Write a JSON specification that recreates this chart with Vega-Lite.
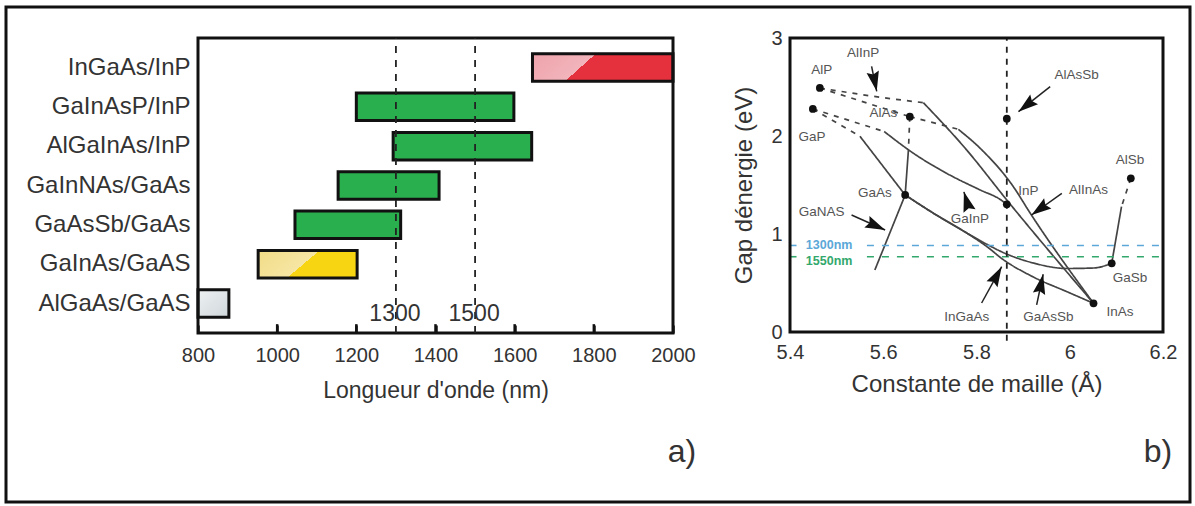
{
  "$schema": "https://vega.github.io/schema/vega-lite/v6.json",
  "width": 1184,
  "height": 495,
  "autosize": "none",
  "padding": {"left": 6, "top": 7, "right": 5, "bottom": 4},
  "background": "white",
  "config": {
    "font": "Liberation Sans",
    "view": {"stroke": "#111", "strokeWidth": 3},
    "axis": {"grid": false}
  },
  "datasets": {
    "bars": [
      {"materiau": "InGaAs/InP", "debut": 1645, "fin": 2000, "gamme": "etendue"},
      {"materiau": "GaInAsP/InP", "debut": 1200, "fin": 1598, "gamme": "telecom"},
      {"materiau": "AlGaInAs/InP", "debut": 1293, "fin": 1643, "gamme": "telecom"},
      {"materiau": "GaInNAs/GaAs", "debut": 1154, "fin": 1409, "gamme": "telecom"},
      {"materiau": "GaAsSb/GaAs", "debut": 1045, "fin": 1312, "gamme": "telecom"},
      {"materiau": "GaInAs/GaAS", "debut": 952, "fin": 1202, "gamme": "proche"},
      {"materiau": "AlGaAs/GaAS", "debut": 800, "fin": 878, "gamme": "visible"}
    ],
    "lambdas": [{"lambda": 1300}, {"lambda": 1500}],
    "graduations": [{"t": 1000}, {"t": 1200}, {"t": 1400}, {"t": 1600}, {"t": 1800}],
    "materials": [
      {"nom": "AlP", "a": 5.464, "eg": 2.49},
      {"nom": "GaP", "a": 5.449, "eg": 2.276},
      {"nom": "AlAs", "a": 5.657, "eg": 2.197},
      {"nom": "AlAsSb", "a": 5.865, "eg": 2.177},
      {"nom": "GaAs", "a": 5.647, "eg": 1.398},
      {"nom": "InP", "a": 5.865, "eg": 1.303},
      {"nom": "AlSb", "a": 6.131, "eg": 1.568},
      {"nom": "GaSb", "a": 6.09, "eg": 0.701},
      {"nom": "InAs", "a": 6.051, "eg": 0.293}
    ],
    "curves": [
      {"seg": "AlInP-ind", "o": 1, "a": 5.464, "eg": 2.49, "gap": "indirect"},
      {"seg": "AlInP-ind", "o": 2, "a": 5.579, "eg": 2.405, "gap": "indirect"},
      {"seg": "AlInP-ind", "o": 3, "a": 5.686, "eg": 2.34, "gap": "indirect"},
      {"seg": "AlInP", "o": 1, "a": 5.686, "eg": 2.34, "gap": "direct"},
      {"seg": "AlInP", "o": 2, "a": 5.779, "eg": 1.857, "gap": "direct"},
      {"seg": "AlInP", "o": 3, "a": 5.865, "eg": 1.347, "gap": "direct"},
      {"seg": "AlInP", "o": 4, "a": 6.051, "eg": 0.293, "gap": "direct"},
      {"seg": "AlAsP", "o": 1, "a": 5.464, "eg": 2.49, "gap": "indirect"},
      {"seg": "AlAsP", "o": 2, "a": 5.657, "eg": 2.197, "gap": "indirect"},
      {"seg": "AlInAs-ind", "o": 1, "a": 5.657, "eg": 2.197, "gap": "indirect"},
      {"seg": "AlInAs-ind", "o": 2, "a": 5.729, "eg": 2.109, "gap": "indirect"},
      {"seg": "AlInAs-ind", "o": 3, "a": 5.761, "eg": 2.068, "gap": "indirect"},
      {"seg": "AlInAs", "o": 1, "a": 5.761, "eg": 2.068, "gap": "direct"},
      {"seg": "AlInAs", "o": 2, "a": 5.808, "eg": 1.874, "gap": "direct"},
      {"seg": "AlInAs", "o": 3, "a": 5.879, "eg": 1.483, "gap": "direct"},
      {"seg": "AlInAs", "o": 4, "a": 5.915, "eg": 1.214, "gap": "direct"},
      {"seg": "AlInAs", "o": 5, "a": 6.051, "eg": 0.293, "gap": "direct"},
      {"seg": "GaInP-ind", "o": 1, "a": 5.449, "eg": 2.276, "gap": "indirect"},
      {"seg": "GaInP-ind", "o": 2, "a": 5.602, "eg": 2.046, "gap": "indirect"},
      {"seg": "GaAsP-ind", "o": 1, "a": 5.449, "eg": 2.276, "gap": "indirect"},
      {"seg": "GaAsP-ind", "o": 2, "a": 5.55, "eg": 1.997, "gap": "indirect"},
      {"seg": "GaAsP", "o": 1, "a": 5.55, "eg": 1.997, "gap": "direct"},
      {"seg": "GaAsP", "o": 2, "a": 5.647, "eg": 1.398, "gap": "direct"},
      {"seg": "GaInP", "o": 1, "a": 5.602, "eg": 2.046, "gap": "direct"},
      {"seg": "GaInP", "o": 2, "a": 5.665, "eg": 1.823, "gap": "direct"},
      {"seg": "GaInP", "o": 3, "a": 5.736, "eg": 1.619, "gap": "direct"},
      {"seg": "GaInP", "o": 4, "a": 5.808, "eg": 1.449, "gap": "direct"},
      {"seg": "GaInP", "o": 5, "a": 5.85, "eg": 1.355, "gap": "direct"},
      {"seg": "GaInP", "o": 6, "a": 5.865, "eg": 1.303, "gap": "direct"},
      {"seg": "AlGaAs-ind", "o": 1, "a": 5.657, "eg": 2.197, "gap": "indirect"},
      {"seg": "AlGaAs-ind", "o": 2, "a": 5.654, "eg": 1.857, "gap": "indirect"},
      {"seg": "AlGaAs", "o": 1, "a": 5.654, "eg": 1.857, "gap": "direct"},
      {"seg": "AlGaAs", "o": 2, "a": 5.647, "eg": 1.398, "gap": "direct"},
      {"seg": "AlGaSb-ind", "o": 1, "a": 6.131, "eg": 1.568, "gap": "indirect"},
      {"seg": "AlGaSb-ind", "o": 2, "a": 6.111, "eg": 1.279, "gap": "indirect"},
      {"seg": "AlGaSb", "o": 1, "a": 6.111, "eg": 1.279, "gap": "direct"},
      {"seg": "AlGaSb", "o": 2, "a": 6.09, "eg": 0.701, "gap": "direct"},
      {"seg": "GaNAs", "o": 1, "a": 5.647, "eg": 1.398, "gap": "direct"},
      {"seg": "GaNAs", "o": 2, "a": 5.582, "eg": 0.633, "gap": "direct"},
      {"seg": "GaAsSb", "o": 1, "a": 5.647, "eg": 1.398, "gap": "direct"},
      {"seg": "GaAsSb", "o": 2, "a": 5.707, "eg": 1.214, "gap": "direct"},
      {"seg": "GaAsSb", "o": 3, "a": 5.779, "eg": 1.01, "gap": "direct"},
      {"seg": "GaAsSb", "o": 4, "a": 5.829, "eg": 0.878, "gap": "direct"},
      {"seg": "GaAsSb", "o": 5, "a": 5.85, "eg": 0.827, "gap": "direct"},
      {"seg": "GaAsSb", "o": 6, "a": 5.922, "eg": 0.704, "gap": "direct"},
      {"seg": "GaAsSb", "o": 7, "a": 5.994, "eg": 0.648, "gap": "direct"},
      {"seg": "GaAsSb", "o": 8, "a": 6.051, "eg": 0.653, "gap": "direct"},
      {"seg": "GaAsSb", "o": 9, "a": 6.09, "eg": 0.701, "gap": "direct"},
      {"seg": "InGaAs", "o": 1, "a": 5.647, "eg": 1.398, "gap": "direct"},
      {"seg": "InGaAs", "o": 2, "a": 5.707, "eg": 1.214, "gap": "direct"},
      {"seg": "InGaAs", "o": 3, "a": 5.779, "eg": 1.01, "gap": "direct"},
      {"seg": "InGaAs", "o": 4, "a": 5.829, "eg": 0.847, "gap": "direct"},
      {"seg": "InGaAs", "o": 5, "a": 5.85, "eg": 0.765, "gap": "direct"},
      {"seg": "InGaAs", "o": 6, "a": 5.922, "eg": 0.561, "gap": "direct"},
      {"seg": "InGaAs", "o": 7, "a": 5.994, "eg": 0.411, "gap": "direct"},
      {"seg": "InGaAs", "o": 8, "a": 6.051, "eg": 0.293, "gap": "direct"}
    ],
    "telecom": [{"nm": "1300nm", "eV": 0.883}, {"nm": "1550nm", "eV": 0.768}],
    "arrows": [
      {"cible": "AlInP", "a0": 5.575, "e0": 2.711, "a1": 5.586, "e1": 2.456},
      {"cible": "AlAsSb", "a0": 5.958, "e0": 2.503, "a1": 5.89, "e1": 2.248},
      {"cible": "AlInAs", "a0": 5.983, "e0": 1.415, "a1": 5.918, "e1": 1.194},
      {"cible": "GaInP", "a0": 5.781, "e0": 1.3, "a1": 5.773, "e1": 1.43},
      {"cible": "GaNAS", "a0": 5.532, "e0": 1.194, "a1": 5.604, "e1": 1.041},
      {"cible": "InGaAs", "a0": 5.811, "e0": 0.296, "a1": 5.854, "e1": 0.666},
      {"cible": "GaAsSb", "a0": 5.929, "e0": 0.276, "a1": 5.943, "e1": 0.589}
    ],
    "labels": [
      {"txt": "AlInP", "a": 5.557, "eg": 2.847},
      {"txt": "AlP", "a": 5.468, "eg": 2.677},
      {"txt": "AlAs", "a": 5.6, "eg": 2.235},
      {"txt": "GaP", "a": 5.447, "eg": 1.99},
      {"txt": "AlAsSb", "a": 6.015, "eg": 2.622},
      {"txt": "AlSb", "a": 6.129, "eg": 1.755},
      {"txt": "GaAs", "a": 5.582, "eg": 1.415},
      {"txt": "InP", "a": 5.911, "eg": 1.439},
      {"txt": "AlInAs", "a": 6.04, "eg": 1.449},
      {"txt": "GaNAS", "a": 5.468, "eg": 1.228},
      {"txt": "GaInP", "a": 5.786, "eg": 1.15},
      {"txt": "GaSb", "a": 6.129, "eg": 0.548},
      {"txt": "InGaAs", "a": 5.779, "eg": 0.156},
      {"txt": "GaAsSb", "a": 5.954, "eg": 0.156},
      {"txt": "InAs", "a": 6.108, "eg": 0.201}
    ]
  },
  "resolve": {"scale": {"x": "independent", "y": "independent", "color": "independent"}},
  "layer": [
    {
      "data": {"name": "bars"},
      "encoding": {
        "y": {
          "field": "materiau", "type": "nominal",
          "scale": {
            "domain": ["InGaAs/InP", "GaInAsP/InP", "AlGaInAs/InP", "GaInNAs/GaAs", "GaAsSb/GaAs", "GaInAs/GaAS", "AlGaAs/GaAS"],
            "range": [31, 326], "paddingInner": 0.3, "paddingOuter": 0.4
          },
          "axis": {"orient": "left", "offset": -192, "title": null, "domain": false, "ticks": false, "labelPadding": 8, "labelFontSize": 24, "labelColor": "#333", "labelLimit": 300}
        },
        "x": {
          "field": "debut", "type": "quantitative",
          "scale": {"domain": [800, 2000], "range": [192, 667], "nice": false, "zero": false},
          "axis": {"orient": "bottom", "offset": -169, "values": [800, 1000, 1200, 1400, 1600, 1800, 2000], "format": "d", "labelFlush": false, "labelOverlap": false, "title": "Longueur d'onde (nm)", "domain": false, "tickSize": -8, "tickWidth": 2.5, "tickColor": "#111", "labelPadding": 20, "labelFontSize": 20, "labelColor": "#333", "titleFontSize": 23, "titleFontWeight": "normal", "titleColor": "#333", "titlePadding": 14, "zindex": 1}
        },
        "x2": {"field": "fin"}
      },
      "layer": [
        {"transform": [{"filter": "datum.gamme === 'telecom'"}], "mark": {"type": "bar", "fill": "#2aaf4f", "stroke": "#111", "strokeWidth": 3}},
        {"transform": [{"filter": "datum.gamme === 'etendue'"}], "mark": {"type": "bar", "stroke": "#111", "strokeWidth": 3, "fill": {"gradient": "linear", "x1": 0, "y1": 0, "x2": 1, "y2": 0.22, "stops": [{"offset": 0, "color": "#eea3ab"}, {"offset": 0.43, "color": "#f2b4bb"}, {"offset": 0.43, "color": "#e5313d"}, {"offset": 1, "color": "#e5313d"}]}}},
        {"transform": [{"filter": "datum.gamme === 'proche'"}], "mark": {"type": "bar", "stroke": "#111", "strokeWidth": 3, "fill": {"gradient": "linear", "x1": 0, "y1": 0, "x2": 1, "y2": 0.33, "stops": [{"offset": 0, "color": "#f2dc86"}, {"offset": 0.56, "color": "#f6e6a4"}, {"offset": 0.56, "color": "#f8d512"}, {"offset": 1, "color": "#f8d512"}]}}},
        {"transform": [{"filter": "datum.gamme === 'visible'"}], "mark": {"type": "bar", "stroke": "#111", "strokeWidth": 3, "fill": {"gradient": "linear", "x1": 0, "y1": 0, "x2": 1, "y2": 1, "stops": [{"offset": 0, "color": "#eef1f2"}, {"offset": 1, "color": "#cfd7db"}]}}}
      ]
    },
    {
      "layer": [
        {
          "data": {"values": [{}]},
          "mark": {"type": "rect", "fillOpacity": 0, "stroke": "#111", "strokeWidth": 3},
          "encoding": {
            "x": {"datum": 800, "type": "quantitative", "scale": {"domain": [800, 2000], "range": [192, 667], "nice": false, "zero": false}, "axis": null},
            "x2": {"datum": 2000},
            "y": {"datum": 0, "type": "quantitative", "scale": {"domain": [0, 1], "range": [326, 31], "nice": false, "zero": false}, "axis": null},
            "y2": {"datum": 1}
          }
        },
        {
          "data": {"name": "graduations"},
          "mark": {"type": "rule", "color": "#111", "strokeWidth": 2.5},
          "encoding": {
            "x": {"field": "t", "type": "quantitative", "axis": null},
            "y": {"datum": 0, "type": "quantitative", "axis": null},
            "y2": {"datum": 0.03}
          }
        },
        {
          "data": {"name": "lambdas"},
          "mark": {"type": "rule", "color": "#222", "strokeWidth": 1.8, "strokeDash": [7, 7]},
          "encoding": {
            "x": {"field": "lambda", "type": "quantitative", "axis": null},
            "y": {"datum": 0, "type": "quantitative", "axis": null},
            "y2": {"datum": 1}
          }
        },
        {
          "data": {"name": "lambdas"},
          "mark": {"type": "text", "fontSize": 23, "color": "#333", "baseline": "middle", "dx": -1},
          "encoding": {
            "x": {"field": "lambda", "type": "quantitative", "axis": null},
            "y": {"datum": 0.066, "type": "quantitative", "axis": null},
            "text": {"field": "lambda", "type": "quantitative", "format": "d"}
          }
        },
        {
          "data": {"values": [{}]},
          "mark": {"type": "text", "fontSize": 32, "color": "#333", "baseline": "middle"},
          "encoding": {
            "x": {"datum": 2022.7, "type": "quantitative", "axis": null},
            "y": {"datum": -0.403, "type": "quantitative", "axis": null},
            "text": {"value": "a)"}
          }
        }
      ]
    },
    {
      "layer": [
        {
          "data": {"name": "curves"},
          "mark": {"type": "line", "color": "#444", "strokeWidth": 1.7, "interpolate": "monotone"},
          "encoding": {
            "x": {
              "field": "a", "type": "quantitative",
              "scale": {"domain": [5.4, 6.2], "range": [784, 1157], "nice": false, "zero": false},
              "axis": {"orient": "bottom", "offset": -170, "values": [5.4, 5.6, 5.8, 6, 6.2], "format": "~g", "labelFlush": false, "labelOverlap": false, "title": "Constante de maille (Å)", "ticks": false, "domain": false, "labelPadding": 10, "labelFontSize": 20, "labelColor": "#333", "titleFontSize": 24, "titleFontWeight": "normal", "titleColor": "#333", "titlePadding": 10}
            },
            "y": {
              "field": "eg", "type": "quantitative",
              "scale": {"domain": [0, 3], "range": [325, 31], "nice": false, "zero": false},
              "axis": {"orient": "left", "offset": -784, "values": [0, 1, 2, 3], "format": "d", "title": "Gap dénergie (eV)", "ticks": false, "domain": false, "labelPadding": 8, "labelFontSize": 20, "labelColor": "#333", "titleFontSize": 24, "titleFontWeight": "normal", "titleColor": "#333", "titlePadding": 14}
            },
            "detail": {"field": "seg", "type": "nominal"},
            "order": {"field": "o", "type": "quantitative"},
            "strokeDash": {"field": "gap", "type": "nominal", "scale": {"domain": ["direct", "indirect"], "range": [[1, 0], [5, 6]]}, "legend": null}
          }
        },
        {
          "data": {"name": "telecom"},
          "mark": {"type": "rule", "strokeWidth": 1.6, "strokeDash": [7, 8]},
          "encoding": {
            "x": {"datum": 5.565, "type": "quantitative"},
            "x2": {"datum": 6.2},
            "y": {"field": "eV", "type": "quantitative"},
            "color": {"field": "nm", "type": "nominal", "scale": {"domain": ["1300nm", "1550nm"], "range": ["#5ba8d8", "#33a86c"]}, "legend": null}
          }
        },
        {
          "data": {"name": "telecom"},
          "mark": {"type": "rule", "strokeWidth": 1.6},
          "encoding": {
            "x": {"datum": 5.4, "type": "quantitative"},
            "x2": {"datum": 5.414},
            "y": {"field": "eV", "type": "quantitative"},
            "color": {"field": "nm", "type": "nominal", "legend": null}
          }
        },
        {
          "data": {"name": "telecom"},
          "transform": [{"filter": "datum.nm === '1300nm'"}],
          "mark": {"type": "text", "fontSize": 12.5, "fontWeight": "bold", "align": "left", "baseline": "middle", "dy": 0},
          "encoding": {
            "x": {"datum": 5.434, "type": "quantitative"},
            "y": {"field": "eV", "type": "quantitative"},
            "text": {"field": "nm", "type": "nominal"},
            "color": {"field": "nm", "type": "nominal", "legend": null}
          }
        },
        {
          "data": {"name": "telecom"},
          "transform": [{"filter": "datum.nm === '1550nm'"}],
          "mark": {"type": "text", "fontSize": 12.5, "fontWeight": "bold", "align": "left", "baseline": "middle", "dy": 4},
          "encoding": {
            "x": {"datum": 5.434, "type": "quantitative"},
            "y": {"field": "eV", "type": "quantitative"},
            "text": {"field": "nm", "type": "nominal"},
            "color": {"field": "nm", "type": "nominal", "legend": null}
          }
        },
        {
          "data": {"values": [{}]},
          "mark": {"type": "rule", "color": "#222", "strokeWidth": 1.8, "strokeDash": [6, 6]},
          "encoding": {
            "x": {"datum": 5.865, "type": "quantitative"},
            "y": {"datum": -0.09, "type": "quantitative"},
            "y2": {"datum": 3}
          }
        },
        {
          "data": {"name": "materials"},
          "mark": {"type": "point", "filled": true, "color": "#111", "size": 60, "opacity": 1},
          "encoding": {
            "x": {"field": "a", "type": "quantitative"},
            "y": {"field": "eg", "type": "quantitative"}
          }
        },
        {
          "data": {"name": "arrows"},
          "mark": {"type": "rule", "color": "#222", "strokeWidth": 1.5},
          "encoding": {
            "x": {"field": "a0", "type": "quantitative"},
            "y": {"field": "e0", "type": "quantitative"},
            "x2": {"field": "a1"},
            "y2": {"field": "e1"}
          }
        },
        {
          "data": {"name": "arrows"},
          "transform": [
            {"calculate": "(datum.a1 - datum.a0) * 466.25", "as": "dxp"},
            {"calculate": "(datum.e0 - datum.e1) * 98", "as": "dyp"},
            {"calculate": "sqrt(datum.dxp * datum.dxp + datum.dyp * datum.dyp)", "as": "len"},
            {"calculate": "atan2(datum.dxp, -datum.dyp) * 180 / PI", "as": "ang"},
            {"calculate": "datum.a1 - 11.4 * datum.dxp / datum.len / 466.25", "as": "ha"},
            {"calculate": "datum.e1 + 11.4 * datum.dyp / datum.len / 98", "as": "he"}
          ],
          "mark": {"type": "point", "filled": true, "color": "#111", "opacity": 1, "size": 520, "shape": "M0,-1L0.55,0.75L0,0.5L-0.55,0.75Z"},
          "encoding": {
            "x": {"field": "ha", "type": "quantitative"},
            "y": {"field": "he", "type": "quantitative"},
            "angle": {"field": "ang", "type": "quantitative", "scale": null}
          }
        },
        {
          "data": {"name": "labels"},
          "mark": {"type": "text", "fontSize": 13.5, "color": "#555", "baseline": "middle"},
          "encoding": {
            "x": {"field": "a", "type": "quantitative"},
            "y": {"field": "eg", "type": "quantitative"},
            "text": {"field": "txt", "type": "nominal"}
          }
        },
        {
          "data": {"values": [{}]},
          "mark": {"type": "rect", "fillOpacity": 0, "stroke": "#111", "strokeWidth": 3},
          "encoding": {
            "x": {"datum": 5.4, "type": "quantitative"},
            "x2": {"datum": 6.2},
            "y": {"datum": 0, "type": "quantitative"},
            "y2": {"datum": 3}
          }
        },
        {
          "data": {"values": [{}]},
          "mark": {"type": "text", "fontSize": 32, "color": "#333", "baseline": "middle"},
          "encoding": {
            "x": {"datum": 6.189, "type": "quantitative"},
            "y": {"datum": -1.2245, "type": "quantitative"},
            "text": {"value": "b)"}
          }
        }
      ]
    }
  ]
}
